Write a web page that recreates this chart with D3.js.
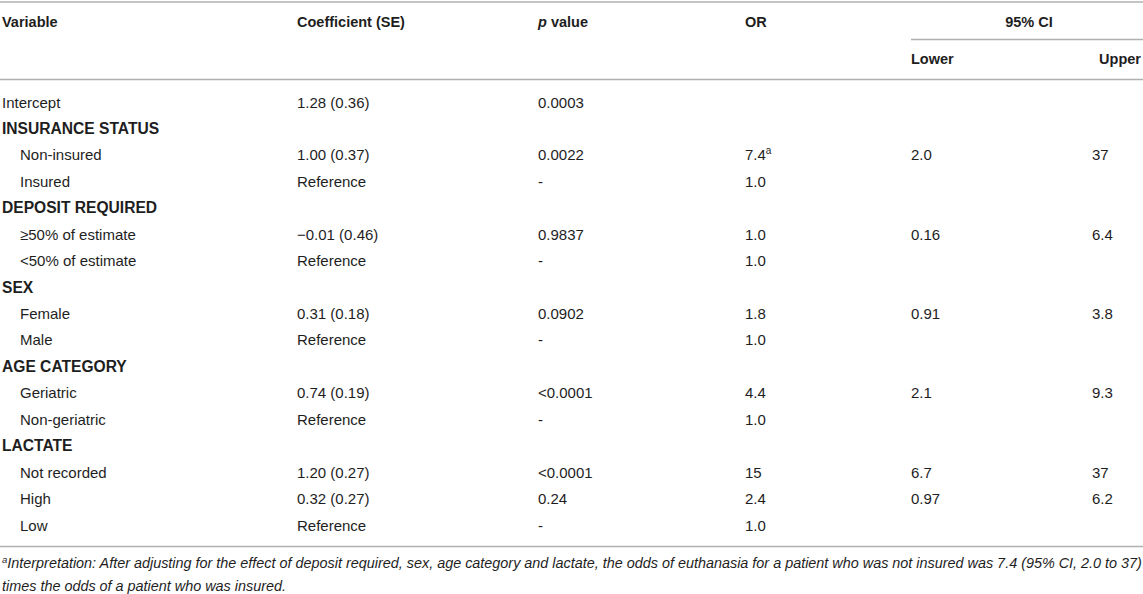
<!DOCTYPE html>
<html>
<head>
<meta charset="utf-8">
<script src="https://cdn.jsdelivr.net/npm/d3@7"></script>
<style>
  body { margin: 0; background: #fff; }
  svg text { font-family: "Liberation Sans", Arial, Helvetica, sans-serif; fill: #1e1e1e; }
</style>
</head>
<body>
<svg id="tbl" width="1143" height="594"></svg>
<script>
'use strict';

// column headers
var headers = ['Variable', 'Coefficient (SE)', 'p value', 'OR', '95% CI'];
var subHeaders = ['Lower', 'Upper'];

// row labels (group rows are bold and not indented)
var labels = ['Intercept', 'INSURANCE STATUS', 'Non-insured', 'Insured', 'DEPOSIT REQUIRED',
  '\u226550% of estimate', '<50% of estimate', 'SEX', 'Female', 'Male', 'AGE CATEGORY',
  'Geriatric', 'Non-geriatric', 'LACTATE', 'Not recorded', 'High', 'Low'];
var isGroup = [0, 1, 0, 0, 1, 0, 0, 1, 0, 0, 1, 0, 0, 1, 0, 0, 0];
var indent = [0, 0, 1, 1, 0, 1, 1, 0, 1, 1, 0, 1, 1, 0, 1, 1, 1];

var coefs = ['1.28 (0.36)', '', '1.00 (0.37)', 'Reference', '', '\u22120.01 (0.46)', 'Reference', '',
  '0.31 (0.18)', 'Reference', '', '0.74 (0.19)', 'Reference', '', '1.20 (0.27)', '0.32 (0.27)', 'Reference'];
var pvals = ['0.0003', '', '0.0022', '-', '', '0.9837', '-', '', '0.0902', '-', '',
  '<0.0001', '-', '', '<0.0001', '0.24', '-'];
var ors = ['', '', '7.4', '1.0', '', '1.0', '1.0', '', '1.8', '1.0', '', '4.4', '1.0', '', '15', '2.4', '1.0'];
var orNote = ['', '', 'a', '', '', '', '', '', '', '', '', '', '', '', '', '', ''];
var lowers = ['', '', '2.0', '', '', '0.16', '', '', '0.91', '', '', '2.1', '', '', '6.7', '0.97', ''];
var uppers = ['', '', '37', '', '', '6.4', '', '', '3.8', '', '', '9.3', '', '', '37', '6.2', ''];

var footnote = [
  'Interpretation: After adjusting for the effect of deposit required, sex, age category and lactate, the odds of euthanasia for a patient who was not insured was 7.4 (95% CI, 2.0 to 37)',
  'times the odds of a patient who was insured.'
];

var svg = d3.select('#tbl');
var W = 1143;

var x = d3.scaleOrdinal()
  .domain(['var', 'coef', 'p', 'or', 'lower', 'upper'])
  .range([2, 297, 538, 745, 911, 1092]);

var y = d3.scalePoint()
  .domain(d3.range(labels.length))
  .range([102, 525]);

var rule = '#b0b0b0';

function hline(x1, x2, yy) {
  svg.append('line')
    .attr('x1', x1).attr('x2', x2)
    .attr('y1', yy).attr('y2', yy)
    .attr('stroke', rule)
    .attr('stroke-width', 1.5);
}

hline(0, W, 2);
hline(911, W, 39.5);
hline(0, W, 79.5);
hline(0, W, 546.5);

// header
var head = svg.append('g').attr('font-weight', 'bold').attr('font-size', 14.5);
head.append('text').attr('x', x('var')).attr('y', 27).text(headers[0]);
head.append('text').attr('x', x('coef')).attr('y', 27).text(headers[1]);
var pt = head.append('text').attr('x', x('p')).attr('y', 27);
pt.append('tspan').attr('font-style', 'italic').text('p');
pt.append('tspan').text(' value');
head.append('text').attr('x', x('or')).attr('y', 27).text(headers[3]);
head.append('text').attr('x', (911 + W) / 2 + 2).attr('y', 27)
  .attr('text-anchor', 'middle').text(headers[4]);
head.append('text').attr('x', x('lower')).attr('y', 64).text(subHeaders[0]);
head.append('text').attr('x', W - 2).attr('y', 64)
  .attr('text-anchor', 'end').text(subHeaders[1]);

// body rows
var rows = svg.append('g').attr('font-size', 15)
  .selectAll('g.row')
  .data(labels)
  .enter()
  .append('g')
  .attr('class', 'row')
  .attr('transform', function(d, i) { return 'translate(0,' + (y(i) + 5.5) + ')'; });

rows.append('text')
  .attr('x', function(d, i) { return x('var') + (indent[i] ? 18 : 0); })
  .attr('font-weight', function(d, i) { return isGroup[i] ? 'bold' : 'normal'; })
  .attr('font-size', function(d, i) { return isGroup[i] ? 15.6 : 15; })
  .text(function(d) { return d; });

rows.append('text').attr('x', x('coef')).text(function(d, i) { return coefs[i]; });
rows.append('text').attr('x', x('p')).text(function(d, i) { return pvals[i]; });

var orText = rows.append('text').attr('x', x('or'));
orText.append('tspan').text(function(d, i) { return ors[i]; });
orText.append('tspan')
  .attr('font-size', 10)
  .attr('dy', -6)
  .text(function(d, i) { return orNote[i]; });

rows.append('text').attr('x', x('lower')).text(function(d, i) { return lowers[i]; });
rows.append('text').attr('x', x('upper')).text(function(d, i) { return uppers[i]; });

// footnote
var fn = svg.append('g').attr('font-size', 14.4).attr('font-style', 'italic');
var f1 = fn.append('text').attr('x', 2).attr('y', 568);
f1.append('tspan').attr('font-size', 9.5).attr('dy', -5).text('a');
f1.append('tspan').attr('dy', 5).text(footnote[0]);
fn.append('text').attr('x', 2).attr('y', 591).text(footnote[1]);
</script>
</body>
</html>
